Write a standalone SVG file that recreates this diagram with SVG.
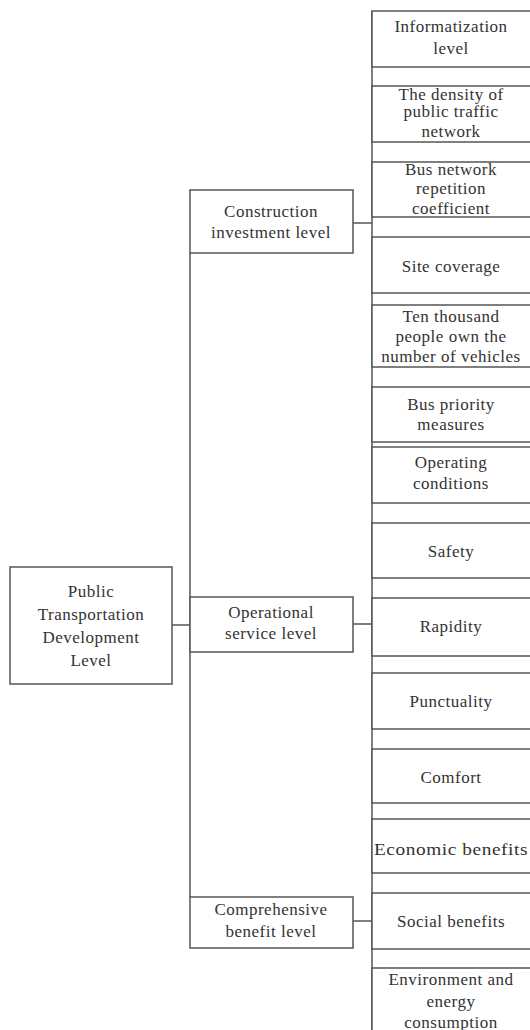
<svg xmlns="http://www.w3.org/2000/svg" width="530" height="1030" viewBox="0 0 530 1030">
<style>
.box{fill:#fff;stroke:#555;stroke-width:1.5}
.ln{stroke:#555;stroke-width:1.5;fill:none}
text{font-family:"Liberation Serif","Times New Roman",serif;font-size:17px;fill:#333;text-anchor:middle;letter-spacing:0.5px}
</style>
<rect width="530" height="1030" fill="#fff"/>
<g id="connectors">
<line class="ln" x1="372" y1="11" x2="372" y2="1030"/>
<line class="ln" x1="190" y1="253" x2="190" y2="897"/>
<line class="ln" x1="172" y1="625" x2="190" y2="625"/>
<line class="ln" x1="353" y1="223" x2="372" y2="223"/>
<line class="ln" x1="353" y1="624" x2="372" y2="624"/>
<line class="ln" x1="353" y1="921" x2="372" y2="921"/>
</g>
<g id="root"><rect class="box" x="10" y="567" width="162" height="117"/>
<text x="91" y="597">Public</text><text x="91" y="620">Transportation</text><text x="91" y="643">Development</text><text x="91" y="666">Level</text></g>
<g id="construction"><rect class="box" x="190" y="190" width="163" height="63"/>
<text x="271" y="217">Construction</text><text x="271" y="238">investment level</text></g>
<g id="operational"><rect class="box" x="190" y="597" width="163" height="55"/>
<text x="271" y="618">Operational</text><text x="271" y="639">service level</text></g>
<g id="comprehensive"><rect class="box" x="190" y="897" width="163" height="51"/>
<text x="271" y="915">Comprehensive</text><text x="271" y="937">benefit level</text></g>
<g id="informatization"><rect class="box" x="372" y="11" width="170" height="56"/>
<text x="451" y="32">Informatization</text><text x="451" y="54">level</text></g>
<g id="density"><rect class="box" x="372" y="86" width="170" height="56"/>
<text x="451" y="100">The density of</text><text x="451" y="117">public traffic</text><text x="451" y="137">network</text></g>
<g id="repetition"><rect class="box" x="372" y="162" width="170" height="55"/>
<text x="451" y="175">Bus network</text><text x="451" y="194">repetition</text><text x="451" y="214">coefficient</text></g>
<g id="site"><rect class="box" x="372" y="237" width="170" height="56"/>
<text x="451" y="272">Site coverage</text></g>
<g id="vehicles"><rect class="box" x="372" y="305" width="170" height="62"/>
<text x="451" y="322">Ten thousand</text><text x="451" y="342">people own the</text><text x="451" y="362">number of vehicles</text></g>
<g id="priority"><rect class="box" x="372" y="387" width="170" height="55"/>
<text x="451" y="410">Bus priority</text><text x="451" y="430">measures</text></g>
<g id="operating"><rect class="box" x="372" y="447" width="170" height="56"/>
<text x="451" y="468">Operating</text><text x="451" y="489">conditions</text></g>
<g id="safety"><rect class="box" x="372" y="523" width="170" height="55"/>
<text x="451" y="557">Safety</text></g>
<g id="rapidity"><rect class="box" x="372" y="598" width="170" height="58"/>
<text x="451" y="632">Rapidity</text></g>
<g id="punctuality"><rect class="box" x="372" y="673" width="170" height="56"/>
<text x="451" y="707">Punctuality</text></g>
<g id="comfort"><rect class="box" x="372" y="749" width="170" height="54"/>
<text x="451" y="783">Comfort</text></g>
<g id="economic"><rect class="box" x="372" y="819" width="170" height="54"/>
<text x="451" y="855" textLength="154" lengthAdjust="spacingAndGlyphs">Economic benefits</text></g>
<g id="social"><rect class="box" x="372" y="893" width="170" height="56"/>
<text x="451" y="927">Social benefits</text></g>
<g id="environment"><rect class="box" x="372" y="968" width="170" height="70"/>
<text x="451" y="985">Environment and</text><text x="451" y="1007">energy</text><text x="451" y="1028">consumption</text></g>
</svg>
